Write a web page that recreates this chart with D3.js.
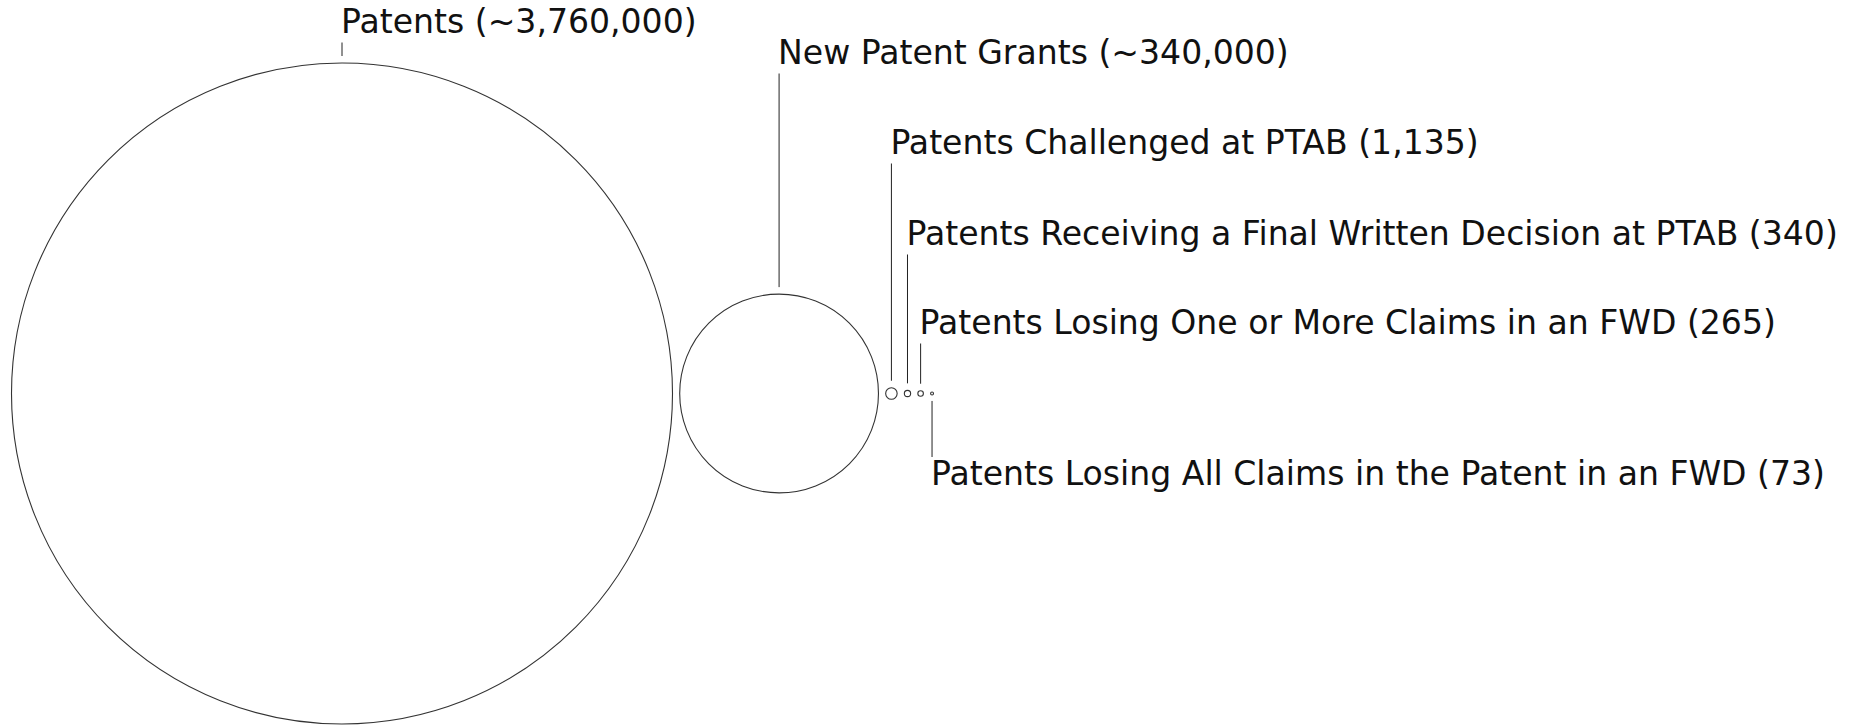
<!DOCTYPE html>
<html>
<head>
<meta charset="utf-8">
<script src="https://d3js.org/d3.v7.min.js"></script>
<style>
  html, body { margin: 0; padding: 0; background: #fff; }
  svg { display: block; }
  text { font-family: "DejaVu Sans", sans-serif; font-size: 33.1px; fill: #111; }
</style>
</head>
<body>
<svg width="1852" height="727"></svg>
<script>
// data
var labels = [
  "Patents (~3,760,000)",
  "New Patent Grants (~340,000)",
  "Patents Challenged at PTAB (1,135)",
  "Patents Receiving a Final Written Decision at PTAB (340)",
  "Patents Losing One or More Claims in an FWD (265)",
  "Patents Losing All Claims in the Patent in an FWD (73)"
];
var counts = [3760000, 340000, 1135, 340, 265, 73];

// label layout: baseline y of each label, and whether it sits under the circle
var labelY = [33, 64, 154, 245, 334, 485];
var below = [false, false, false, false, false, true];

var svg = d3.select("svg"),
  width = +svg.attr("width"),
  height = +svg.attr("height");

var cy = 393.5,
  left = 11.5,
  gap = 7.2;

// circle area proportional to count
var r = d3.scaleSqrt()
  .domain([0, d3.max(counts)])
  .range([0, 330.5]);

var nodes = counts.map(function (v, i) {
  return {label: labels[i], value: v, r: r(v), ly: labelY[i], below: below[i]};
});

// lay the circles out side by side
var x = left;
nodes.forEach(function (d) {
  d.x = x + d.r;
  x = d.x + d.r + gap;
});

var g = svg.append("g");

g.selectAll("circle")
  .data(nodes)
  .enter().append("circle")
  .attr("cx", function (d) { return d.x; })
  .attr("cy", cy)
  .attr("r", function (d) { return d.r; })
  .attr("fill", "none")
  .attr("stroke", "#333")
  .attr("stroke-width", 1.1);

g.selectAll("line")
  .data(nodes)
  .enter().append("line")
  .attr("x1", function (d) { return d.x; })
  .attr("x2", function (d) { return d.x; })
  .attr("y1", function (d) { return d.below ? cy + d.r + 6 : d.ly + 9.5; })
  .attr("y2", function (d) { return d.below ? d.ly - 28 : cy - d.r - 7; })
  .attr("stroke", "#222")
  .attr("stroke-width", 1);

g.selectAll("text")
  .data(nodes)
  .enter().append("text")
  .attr("x", function (d) { return d.x - 1; })
  .attr("y", function (d) { return d.ly; })
  .text(function (d) { return d.label; });
</script>
</body>
</html>
